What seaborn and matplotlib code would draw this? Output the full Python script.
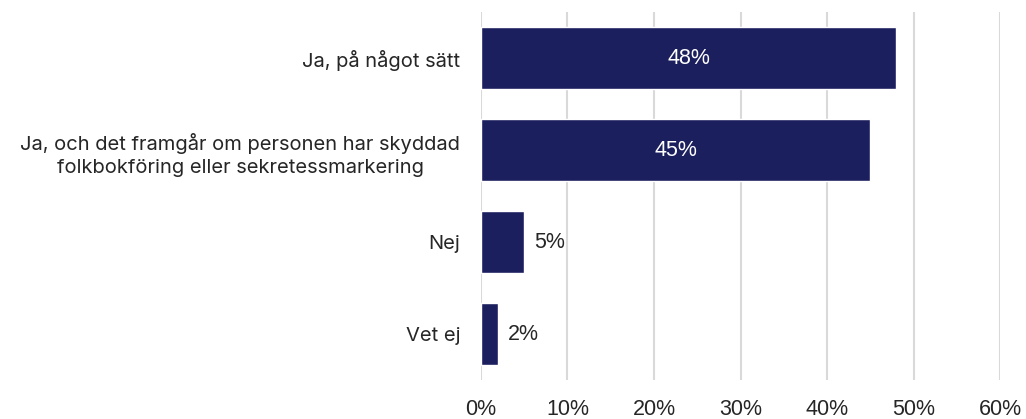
import pandas as pd
import matplotlib
matplotlib.use("Agg")
import matplotlib.pyplot as plt
import seaborn as sns

categories = ["Ja, på något sätt",
              "Ja, och det framgår om personen har skyddad\nfolkbokföring eller sekretessmarkering",
              "Nej",
              "Vet ej"]
values = [48, 45, 5, 2]
xticks = [0, 10, 20, 30, 40, 50, 60]

df = pd.DataFrame({"kategori": categories, "andel": values})

sns.set_style("white")
plt.rcParams['font.family'] = ['Liberation Sans', 'DejaVu Sans']

bar_color = "#1c1f5e"
text_color = "#262626"

fig = plt.figure(figsize=(10.26, 4.19), dpi=100)
ax = fig.add_axes([0.4688, 0.093, 0.9747 - 0.4688, 0.878])

sns.barplot(data=df, x="andel", y="kategori", color=bar_color, width=0.67,
            saturation=1, ax=ax, zorder=3)

ax.set_xlim(0, 60)
ax.set_xticks(xticks)
ax.set_xticklabels([f"{t}%" for t in xticks], fontsize=15.5, color=text_color)
ax.tick_params(axis="x", length=0, pad=14)
ax.tick_params(axis="y", length=0, pad=15)
for lab in ax.get_yticklabels():
    lab.set_fontsize(14.5)
    lab.set_color(text_color)
    lab.set_family(['Inter', 'DejaVu Sans'])
    lab.set_horizontalalignment("right")
    lab.set_multialignment("center")
    lab.set_linespacing(1.35)

ax.grid(axis="x", color="#d9d9d9", linewidth=1.5, zorder=0)
ax.grid(axis="y", visible=False)
for s in ax.spines.values():
    s.set_visible(False)
ax.set_xlabel("")
ax.set_ylabel("")

for i, v in enumerate(values):
    if v > 20:
        ax.text(v / 2, i, f"{v}%", ha="center", va="center", color="white", fontsize=15.5, zorder=4)
    else:
        ax.text(v + 1.1, i, f"{v}%", ha="left", va="center", color=text_color, fontsize=15.5, zorder=4)

fig.savefig("out.png", dpi=100)
